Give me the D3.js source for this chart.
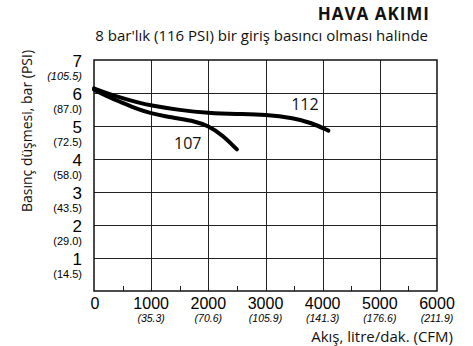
<!DOCTYPE html>
<html>
<head>
<meta charset="utf-8">
<script src="https://cdn.jsdelivr.net/npm/d3@7"></script>
<style>
  html, body { margin: 0; padding: 0; background: #fff; }
  svg { display: block; }
</style>
</head>
<body>
<svg id="chart" width="473" height="346"></svg>
<script>
// Flow (l/min) vs. pressure drop (bar) for the two models
const flow112 = [0, 250, 500, 750, 1000, 1500, 2000, 2500, 3000, 3500, 3800, 4100];
const drop112 = [6.14, 5.98, 5.84, 5.72, 5.62, 5.48, 5.39, 5.36, 5.35, 5.24, 5.10, 4.86];
const flow107 = [0, 250, 500, 750, 1000, 1250, 1500, 1750, 2000, 2250, 2500];
const drop107 = [6.10, 5.88, 5.70, 5.52, 5.38, 5.29, 5.22, 5.15, 5.01, 4.72, 4.29];
const seriesNames = ["112", "107"];

// Axis tick labels
const xTicks = [0, 1000, 2000, 3000, 4000, 5000, 6000];
const xCfm = ["", "(35.3)", "(70.6)", "(105.9)", "(141.3)", "(176.6)", "(211.9)"];
const yTicks = [1, 2, 3, 4, 5, 6, 7];
const yPsi = ["(14.5)", "(29.0)", "(43.5)", "(58.0)", "(72.5)", "(87.0)", "(105.5)"];
const minorTicks = [500, 1500, 2500, 3500, 4500, 5500];

const svg = d3.select("#chart");
const x = d3.scaleLinear().domain([0, 6000]).range([94, 437]);
const y = d3.scaleLinear().domain([0, 7]).range([291, 60]);

const numFont = "'Liberation Sans', Arial, sans-serif";
const textFont = "'Open Sans', 'Noto Sans', sans-serif";

// Grid
const grid = svg.append("g").attr("stroke", "#222").attr("stroke-width", 1);
grid.selectAll("line.h").data(yTicks.slice(0, -1)).join("line")
  .attr("x1", x(0)).attr("x2", x(6000))
  .attr("y1", d => Math.round(y(d)) + 0.5).attr("y2", d => Math.round(y(d)) + 0.5);
grid.selectAll("line.v").data(xTicks.slice(1, -1)).join("line")
  .attr("y1", y(0)).attr("y2", y(7))
  .attr("x1", d => Math.round(x(d)) + 0.5).attr("x2", d => Math.round(x(d)) + 0.5);

// Minor ticks on the flow axis
grid.selectAll("line.m").data(minorTicks).join("line")
  .attr("x1", d => Math.round(x(d)) + 0.5).attr("x2", d => Math.round(x(d)) + 0.5)
  .attr("y1", y(0)).attr("y2", y(0) - 5);

// Frame
svg.append("rect")
  .attr("x", x(0)).attr("y", y(7))
  .attr("width", x(6000) - x(0)).attr("height", y(0) - y(7))
  .attr("fill", "none").attr("stroke", "#111").attr("stroke-width", 1.5);

// Curves
const line = d3.line().x(d => x(d[0])).y(d => y(d[1])).curve(d3.curveBasis);
const series = [
  flow112.map((f, i) => [f, drop112[i]]),
  flow107.map((f, i) => [f, drop107[i]])
];
svg.append("g").selectAll("path").data(series).join("path")
  .attr("d", line)
  .attr("fill", "none").attr("stroke", "#000")
  .attr("stroke-width", 4).attr("stroke-linecap", "round");

// Curve labels
const labelPos = [[3690, 5.5], [1640, 4.3]];
svg.append("g").selectAll("text").data(seriesNames).join("text")
  .attr("x", (d, i) => x(labelPos[i][0]))
  .attr("y", (d, i) => y(labelPos[i][1]))
  .attr("text-anchor", "middle")
  .attr("font-family", textFont).attr("font-size", 16).attr("fill", "#111")
  .text(d => d);

// Y axis labels
const yl = svg.append("g");
yl.selectAll("text.n").data(yTicks).join("text")
  .attr("x", 82).attr("y", d => y(d) + 6.5)
  .attr("text-anchor", "end")
  .attr("font-family", numFont).attr("font-size", 17)
  .text(d => d);
yl.selectAll("text.p").data(yTicks).join("text")
  .attr("x", 82).attr("y", d => y(d) + 19.5)
  .attr("text-anchor", "end")
  .attr("font-family", numFont).attr("font-size", 11)
  .attr("font-style", d => d === 7 ? "italic" : "normal")
  .text((d, i) => yPsi[i]);

// X axis labels
const xl = svg.append("g");
xl.selectAll("text.n").data(xTicks).join("text")
  .attr("x", d => x(d) + (d === 0 ? 1 : 0)).attr("y", 308.5)
  .attr("text-anchor", "middle")
  .attr("font-family", numFont).attr("font-size", 16)
  .text(d => d);
xl.selectAll("text.c").data(xTicks).join("text")
  .attr("x", d => x(d)).attr("y", 321.5)
  .attr("text-anchor", "middle")
  .attr("font-family", numFont).attr("font-size", 10.5)
  .attr("font-style", "italic")
  .text((d, i) => xCfm[i]);

// Titles
svg.append("text").attr("x", 430).attr("y", 20)
  .attr("text-anchor", "end").attr("font-family", textFont)
  .attr("font-size", 17).attr("font-weight", "bold").attr("fill", "#111")
  .attr("letter-spacing", 1)
  .text("HAVA AKIMI");
svg.append("text").attr("x", 428).attr("y", 41)
  .attr("text-anchor", "end").attr("font-family", textFont)
  .attr("font-size", 15).attr("fill", "#111")
  .text("8 bar'lık (116 PSI) bir giriş basıncı olması halinde");
svg.append("text").attr("x", 453).attr("y", 342)
  .attr("text-anchor", "end").attr("font-family", textFont)
  .attr("font-size", 15).attr("fill", "#111")
  .text("Akış, litre/dak. (CFM)");
svg.append("text")
  .attr("transform", "translate(32,131) rotate(-90)")
  .attr("text-anchor", "middle").attr("font-family", textFont)
  .attr("font-size", 14).attr("fill", "#111")
  .text("Basınç düşmesi, bar (PSI)");
</script>
</body>
</html>
